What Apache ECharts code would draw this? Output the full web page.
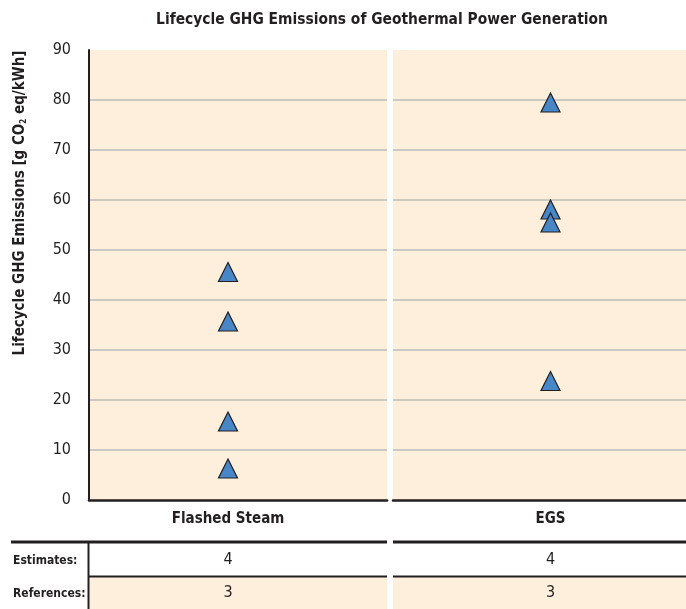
<!DOCTYPE html>
<html><head><meta charset="utf-8">
<script src="https://cdn.jsdelivr.net/npm/echarts@6/dist/echarts.min.js"></script>
<style>html,body{margin:0;padding:0;background:#fff}#c{width:686px;height:609px}</style>
</head><body><div id="c"></div>
<script>
// ---- data ----
const categories = ['Flashed Steam', 'EGS'];
const flashedSteam = [45.6, 35.7, 15.7, 6.3];
const egs = [79.5, 58.1, 55.5, 23.8];
const estimates = [4, 4];
const references = [3, 3];
const rowLabels = ['Estimates:', 'References:'];
const yMin = 0, yMax = 90, yInterval = 10;
const titleText = 'Lifecycle GHG Emissions of Geothermal Power Generation';

// ---- styles / layout ----
const FONT = "'Liberation Sans Narrow','DejaVu Sans Condensed','Open Sans',sans-serif";
const cream = '#FDEFDC';
const dark = '#231F20';
const gridGray = '#BBBBBB';
const blue = '#4787C7';
const panels = [{l: 89, r: 387}, {l: 393, r: 686}];
const plotTop = 50, plotBottom = 500;
const markerShift = [-10, 11];
const seriesValues = [flashedSteam, egs];

const chart = echarts.init(document.getElementById('c'), null, {renderer: 'canvas'});

const tickVals = [];
for (let v = yMin; v <= yMax; v += yInterval) tickVals.push(v);
const splitColors = tickVals.map(v => (v === yMax || v === yMin) ? 'rgba(0,0,0,0)' : gridGray);

const option = {
  animation: false,
  backgroundColor: '#fff',
  grid: panels.map(p => ({
    left: p.l, width: p.r - p.l, top: plotTop, height: plotBottom - plotTop,
    show: true, backgroundColor: cream, borderWidth: 0
  })),
  xAxis: panels.map((p, i) => ({
    type: 'category', gridIndex: i, data: [categories[i]],
    axisLine: {show: true, lineStyle: {color: dark, width: 2.5}},
    axisTick: {show: false},
    axisLabel: {
      fontFamily: FONT, fontSize: 15, fontWeight: 'bold', color: dark, margin: 12,
      padding: markerShift[i] < 0 ? [0, -2 * markerShift[i], 0, 0] : [0, 0, 0, 2 * markerShift[i]]
    }
  })),
  yAxis: panels.map((p, i) => ({
    type: 'value', gridIndex: i, min: yMin, max: yMax, interval: yInterval,
    axisLine: {show: i === 0, lineStyle: {color: dark, width: 2}},
    axisTick: {show: false},
    axisLabel: {show: i === 0, fontFamily: FONT, fontSize: 16, color: dark, margin: 18},
    splitLine: {show: true, lineStyle: {color: splitColors, width: 1.5}}
  })),
  series: seriesValues.map((vals, i) => ({
    type: 'scatter', xAxisIndex: i, yAxisIndex: i,
    data: vals.map(v => [categories[i], v]),
    symbol: 'triangle', symbolSize: [19, 19], symbolOffset: [markerShift[i], 0],
    itemStyle: {color: blue, borderColor: dark, borderWidth: 1.2, opacity: 1},
    z: 5
  }))
};
chart.setOption(option);

// ---- graphic: title, y name, table ----
const g = [];
g.push({type: 'text', x: 382, y: 20, style: {text: titleText, font: 'bold 15.4px ' + FONT, fill: dark, textAlign: 'center', textVerticalAlign: 'middle'}});
g.push({type: 'text', x: 20, y: 203, rotation: Math.PI / 2,
  style: {
    text: '{a|Lifecycle GHG Emissions [g CO}{s|2}{a| eq/kWh]}',
    textAlign: 'center', textVerticalAlign: 'middle',
    rich: {
      a: {font: 'bold 15px ' + FONT, fill: dark},
      s: {font: 'bold 8px ' + FONT, fill: dark, verticalAlign: 'bottom', padding: [8, 0, 0, 0]}
    }
  }});
// table
const tTop = 542, tMid = 576.5, tBot = 609;
panels.forEach((p, i) => {
  g.push({type: 'rect', shape: {x: p.l, y: tMid, width: p.r - p.l, height: tBot - tMid}, style: {fill: cream}, z: 1});
  g.push({type: 'line', shape: {x1: i === 0 ? 11 : p.l, y1: tTop, x2: p.r, y2: tTop}, style: {stroke: dark, lineWidth: 3}, z: 3});
  g.push({type: 'line', shape: {x1: p.l, y1: tMid, x2: p.r, y2: tMid}, style: {stroke: dark, lineWidth: 2}, z: 3});
  const cx = chart.convertToPixel({xAxisIndex: i}, categories[i]) + markerShift[i];
  g.push({type: 'text', x: cx, y: 560, style: {text: String(estimates[i]), font: '16px ' + FONT, fill: dark, textAlign: 'center', textVerticalAlign: 'middle'}, z: 4});
  g.push({type: 'text', x: cx, y: 593, style: {text: String(references[i]), font: '16px ' + FONT, fill: dark, textAlign: 'center', textVerticalAlign: 'middle'}, z: 4});
});
g.push({type: 'line', shape: {x1: 88.5, y1: tTop, x2: 88.5, y2: tBot}, style: {stroke: dark, lineWidth: 2}, z: 3});
g.push({type: 'text', x: 13, y: 561, style: {text: rowLabels[0], font: 'bold 12px ' + FONT, fill: dark, textAlign: 'left', textVerticalAlign: 'middle'}, z: 4});
g.push({type: 'text', x: 13, y: 594, style: {text: rowLabels[1], font: 'bold 12px ' + FONT, fill: dark, textAlign: 'left', textVerticalAlign: 'middle'}, z: 4});
chart.setOption({graphic: g});
</script>
</body></html>
